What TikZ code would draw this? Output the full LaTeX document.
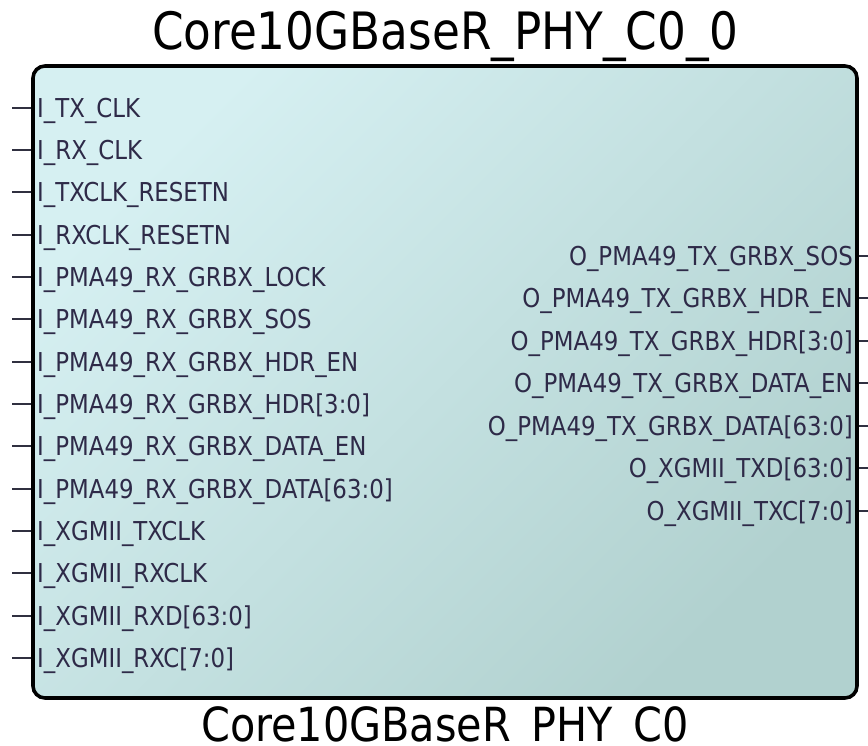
\documentclass[tikz,border=0pt]{standalone}
\usepackage{fontspec}
\setmainfont{DejaVu Sans}
\newfontfamily\pinfont[FakeStretch=0.88]{DejaVu Sans}
\usetikzlibrary{calc}
\definecolor{fillA}{HTML}{D6F0F2}
\definecolor{fillB}{HTML}{B1D1CF}
\definecolor{pintext}{HTML}{2E2A48}
\definecolor{pinline}{HTML}{303040}

\begin{document}
\begin{tikzpicture}[x=1pt,y=-1pt,
  block/.style={draw=black, line width=3.6pt, rounded corners=12pt,
    top color=fillA, bottom color=fillB, shading angle=45,
    minimum width=824pt, minimum height=632pt, inner sep=0pt},
  pinlbl/.style={font=\pinfont\fontsize{26}{26}\selectfont, text=pintext, inner sep=0pt},
  stub/.style={draw=pinline, line width=2pt},
  caption/.style={font=\pinfont\fontsize{51.5}{52}\selectfont, text=black, inner sep=0pt, anchor=base}]
\useasboundingbox (0,0) rectangle (868,745);

% component body
\node[block] (blk) at (445,382) {};

% instance name and component name
\node[caption] (inst) at (445,49) {Core10GBaseR\_PHY\_C0\_0};
\node[caption, font=\pinfont\fontsize{47}{48}\selectfont] (comp) at (445,741) {Core10GBaseR\_PHY\_C0};

% input ports
\foreach \t [count=\k from 0] in {{I\_TX\_CLK},{I\_RX\_CLK},{I\_TXCLK\_RESETN},{I\_RXCLK\_RESETN},
  {I\_PMA49\_RX\_GRBX\_LOCK},{I\_PMA49\_RX\_GRBX\_SOS},{I\_PMA49\_RX\_GRBX\_HDR\_EN},
  {I\_PMA49\_RX\_GRBX\_HDR[3:0]},{I\_PMA49\_RX\_GRBX\_DATA\_EN},{I\_PMA49\_RX\_GRBX\_DATA[63:0]},
  {I\_XGMII\_TXCLK},{I\_XGMII\_RXCLK},{I\_XGMII\_RXD[63:0]},{I\_XGMII\_RXC[7:0]}}{
  \coordinate (inpin\k) at (12,{107.5+\k*42.35});
  \node[pinlbl, anchor=base west] (inlbl\k) at (37,{117+\k*42.35}) {\t};
  \draw[stub] (inpin\k) -- (blk.west |- inpin\k);
}

% output ports
\foreach \t [count=\k from 0] in {{O\_PMA49\_TX\_GRBX\_SOS},{O\_PMA49\_TX\_GRBX\_HDR\_EN},
  {O\_PMA49\_TX\_GRBX\_HDR[3:0]},{O\_PMA49\_TX\_GRBX\_DATA\_EN},{O\_PMA49\_TX\_GRBX\_DATA[63:0]},
  {O\_XGMII\_TXD[63:0]},{O\_XGMII\_TXC[7:0]}}{
  \coordinate (outpin\k) at (868,{255.5+\k*42.5});
  \node[pinlbl, anchor=base east] (outlbl\k) at (853,{265+\k*42.5}) {\t};
  \draw[stub] (blk.east |- outpin\k) -- (outpin\k);
}
\end{tikzpicture}
\end{document}
